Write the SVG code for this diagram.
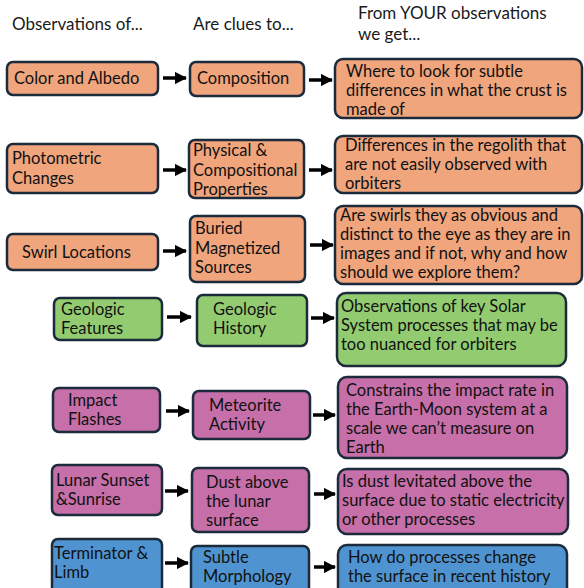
<svg xmlns="http://www.w3.org/2000/svg" width="584" height="588" viewBox="0 0 584 588">
<defs>
<style>
.n{stroke:#1b2b3b;stroke-width:2.5}
.o{fill:#f0a57d}.g{fill:#93cc70}.p{fill:#c66fa8}.b{fill:#4f94d0}
text{font-family:Lato,"Noto Sans",sans-serif;font-size:16.5px;fill:#111}
.h{font-size:17px;fill:#1a1a1a}
.c{stroke:#000;stroke-width:3.5;fill:none;marker-end:url(#ah)}
</style>
<marker id="ah" viewBox="0 0 10 10" refX="9" refY="5" markerWidth="3.5" markerHeight="3.5" orient="auto" markerUnits="strokeWidth">
<path d="M0,0 L10,5 L0,10 Z" fill="#000"/>
</marker>
</defs>
<g id="headers">
<text class="h" x="12" y="30">Observations of...</text>
<text class="h" x="193" y="30">Are clues to...</text>
<text class="h" x="358" y="19">From YOUR observations</text>
<text class="h" x="358" y="40">we get...</text>
</g>
<g id="connectors">
<line class="c" x1="163" y1="78" x2="186" y2="78"/>
<line class="c" x1="309" y1="80" x2="332" y2="80"/>
<line class="c" x1="163" y1="170" x2="186" y2="170"/>
<line class="c" x1="309" y1="170" x2="332" y2="170"/>
<line class="c" x1="163" y1="251" x2="186" y2="251"/>
<line class="c" x1="310" y1="245" x2="333" y2="245"/>
<line class="c" x1="167" y1="317" x2="191" y2="317"/>
<line class="c" x1="311" y1="318" x2="334" y2="318"/>
<line class="c" x1="166" y1="411" x2="189" y2="411"/>
<line class="c" x1="313" y1="415" x2="335" y2="415"/>
<line class="c" x1="165" y1="491" x2="188" y2="491"/>
<line class="c" x1="314" y1="494" x2="335" y2="494"/>
<line class="c" x1="165" y1="563" x2="188" y2="563"/>
<line class="c" x1="314" y1="567" x2="335" y2="567"/>
</g>
<g id="color-albedo"><rect class="n o" x="7" y="62" width="151" height="33" rx="6"/><text x="14" y="84">Color and Albedo</text></g>
<g id="composition"><rect class="n o" x="190" y="62" width="114" height="34" rx="6"/><text x="197" y="84">Composition</text></g>
<g id="where-to-look"><rect class="n o" x="335" y="59" width="247" height="59" rx="8"/><text x="346" y="77">Where to look for subtle</text><text x="346" y="96">differences in what the crust is</text><text x="346" y="115">made of</text></g>
<g id="photometric"><rect class="n o" x="7" y="144" width="151" height="49" rx="6"/><text x="12" y="164">Photometric</text><text x="12" y="184">Changes</text></g>
<g id="physical"><rect class="n o" x="189" y="140" width="115" height="58" rx="6"/><text x="193" y="156">Physical &amp;</text><text x="193" y="176">Compositional</text><text x="193" y="195">Properties</text></g>
<g id="regolith"><rect class="n o" x="335" y="136" width="247" height="57" rx="8"/><text x="345" y="151">Differences in the regolith that</text><text x="345" y="170">are not easily observed with</text><text x="345" y="189">orbiters</text></g>
<g id="swirl"><rect class="n o" x="7" y="234" width="151" height="36" rx="6"/><text x="22" y="258">Swirl Locations</text></g>
<g id="buried"><rect class="n o" x="190" y="216" width="115" height="66" rx="6"/><text x="195" y="234">Buried</text><text x="195" y="254">Magnetized</text><text x="195" y="273">Sources</text></g>
<g id="swirls-q"><rect class="n o" x="335" y="206" width="247" height="78" rx="8"/><text x="340" y="221">Are swirls they as obvious and</text><text x="340" y="240">distinct to the eye as they are in</text><text x="340" y="259">images and if not, why and how</text><text x="340" y="278">should we explore them?</text></g>
<g id="geo-features"><rect class="n g" x="54" y="298" width="108" height="42" rx="6"/><text x="61" y="315">Geologic</text><text x="61" y="334">Features</text></g>
<g id="geo-history"><rect class="n g" x="197" y="295" width="110" height="51" rx="6"/><text x="213" y="315">Geologic</text><text x="213" y="334">History</text></g>
<g id="solar-system"><rect class="n g" x="337" y="293" width="229" height="73" rx="9"/><text x="341" y="312">Observations of key Solar</text><text x="341" y="331">System processes that may be</text><text x="341" y="350">too nuanced for orbiters</text></g>
<g id="impact"><rect class="n p" x="53" y="388" width="107" height="44" rx="6"/><text x="68" y="406">Impact</text><text x="68" y="425">Flashes</text></g>
<g id="meteorite"><rect class="n p" x="193" y="391" width="117" height="48" rx="6"/><text x="209" y="411">Meteorite</text><text x="209" y="430">Activity</text></g>
<g id="impact-rate"><rect class="n p" x="338" y="377" width="229" height="81" rx="9"/><text x="346" y="396">Constrains the impact rate in</text><text x="346" y="415">the Earth-Moon system at a</text><text x="346" y="434">scale we can’t measure on</text><text x="346" y="453">Earth</text></g>
<g id="sunset"><rect class="n p" x="52" y="465" width="110" height="50" rx="6"/><text x="56" y="486">Lunar Sunset</text><text x="56" y="505">&amp;Sunrise</text></g>
<g id="dust"><rect class="n p" x="192" y="468" width="117" height="64" rx="6"/><text x="206" y="488">Dust above</text><text x="206" y="507">the lunar</text><text x="206" y="526">surface</text></g>
<g id="levitated"><rect class="n p" x="338" y="469" width="230" height="65" rx="9"/><text x="342" y="487">Is dust levitated above the</text><text x="342" y="506">surface due to static electricity</text><text x="342" y="525">or other processes</text></g>
<g id="terminator"><rect class="n b" x="52" y="539" width="110" height="60" rx="6"/><text x="54" y="559">Terminator &amp;</text><text x="54" y="578">Limb</text></g>
<g id="morphology"><rect class="n b" x="191" y="546" width="118" height="55" rx="6"/><text x="203" y="563">Subtle</text><text x="203" y="582">Morphology</text></g>
<g id="processes"><rect class="n b" x="338" y="545" width="229" height="56" rx="9"/><text x="348" y="563">How do processes change</text><text x="348" y="582">the surface in recent history</text></g>
</svg>
